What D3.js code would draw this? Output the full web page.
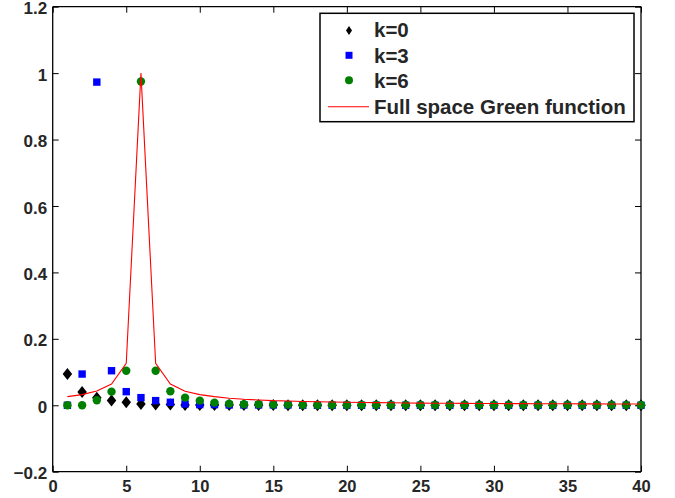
<!DOCTYPE html>
<html>
<head>
<meta charset="utf-8">
<script src="https://cdn.jsdelivr.net/npm/d3@7"></script>
<style>
  html, body { margin: 0; padding: 0; background: #fff; }
  svg { display: block; font-family: "Liberation Sans", Arial, Helvetica, sans-serif; }
</style>
</head>
<body>
<svg id="chart" width="675" height="498"></svg>
<script>
// ---- data ----
const xIndex = d3.range(1, 41); // 1..40
const k0Values = [0.094, 0.040, 0.023, 0.014, 0.009, 0.004, 0.002, 0.002, 0.001, 0.001,
  0.001, 0.001, 0.001, 0.001, 0.001, 0.000, 0.000, 0.000, 0.000, 0.000,
  0.000, 0.000, 0.000, 0.000, 0.000, 0.000, 0.000, 0.000, 0.000, 0.000,
  0.000, 0.000, 0.000, 0.000, 0.000, 0.000, 0.000, 0.000, 0.000, 0.000];
const k3Values = [0.000, 0.094, 0.973, 0.104, 0.041, 0.023, 0.014, 0.009, 0.004, 0.002,
  0.002, 0.001, 0.001, 0.001, 0.001, 0.001, 0.000, 0.000, 0.000, 0.000,
  0.000, 0.000, 0.000, 0.000, 0.000, 0.000, 0.000, 0.000, 0.000, 0.000,
  0.000, 0.000, 0.000, 0.000, 0.000, 0.000, 0.000, 0.000, 0.000, 0.000];
const k6Values = [0.000, 0.000, 0.015, 0.041, 0.104, 0.975, 0.104, 0.042, 0.023, 0.014,
  0.008, 0.005, 0.003, 0.003, 0.002, 0.002, 0.001, 0.001, 0.001, 0.001,
  0.001, 0.001, 0.001, 0.001, 0.001, 0.001, 0.001, 0.001, 0.001, 0.001,
  0.001, 0.001, 0.001, 0.001, 0.001, 0.001, 0.001, 0.001, 0.001, 0.001];
const greenValues = [0.026, 0.032, 0.043, 0.064, 0.126, 1.000, 0.126, 0.064, 0.042, 0.032,
  0.026, 0.021, 0.018, 0.016, 0.014, 0.013, 0.0115, 0.0105, 0.0097, 0.0090,
  0.0084, 0.0079, 0.0074, 0.0070, 0.0066, 0.0063, 0.0060, 0.0057, 0.0055, 0.0053,
  0.0051, 0.0049, 0.0047, 0.0045, 0.0044, 0.0042, 0.0041, 0.0040, 0.0039, 0.0038];
const xTicks = [0, 5, 10, 15, 20, 25, 30, 35, 40];
const yTicks = [-0.2, 0, 0.2, 0.4, 0.6, 0.8, 1, 1.2];
const legendLabels = ["k=0", "k=3", "k=6", "Full space Green function"];

// ---- layout ----
const svg = d3.select("#chart");
const L = 52.7, R = 641, T = 6.7, B = 471.7;
const x = d3.scaleLinear().domain([0, 40]).range([L, R]);
const y = d3.scaleLinear().domain([-0.2, 1.2]).range([B, T]);
const tickLen = 6;

const g = svg.append("g");

// axes with inward ticks on all four sides
const fmt = d => (d === 0 ? "0" : d3.format("")(+d.toFixed(1))).replace("-", "\u2212");
const axB = g.append("g").attr("transform", `translate(0,${B})`)
  .call(d3.axisBottom(x).tickValues(xTicks).tickSize(-tickLen).tickPadding(9).tickFormat(d => d));
const axT = g.append("g").attr("transform", `translate(0,${T})`)
  .call(d3.axisTop(x).tickValues(xTicks).tickSize(-tickLen).tickFormat(""));
const axL = g.append("g").attr("transform", `translate(${L},0)`)
  .call(d3.axisLeft(y).tickValues(yTicks).tickSize(-tickLen).tickPadding(5.5).tickFormat(fmt));
const axR = g.append("g").attr("transform", `translate(${R},0)`)
  .call(d3.axisRight(y).tickValues(yTicks).tickSize(-tickLen).tickFormat(""));

[axB, axT, axL, axR].forEach(a => {
  a.select(".domain").attr("stroke", "#000").attr("stroke-width", 1.3);
  a.selectAll(".tick line").attr("stroke", "#000").attr("stroke-width", 1);
  a.selectAll("text").attr("fill", "#262626").attr("font-size", "16.5px")
    .attr("font-weight", "bold").attr("font-family", "'Liberation Sans', Arial, sans-serif");
});
axL.selectAll(".tick text").attr("dy", "0.42em").attr("font-size", "17px");
axB.select(".domain").attr("d", `M${L},0H${R}`);
axT.select(".domain").attr("d", `M${L},0H${R}`);
axL.select(".domain").attr("d", `M0,${T}V${B}`);
axR.select(".domain").attr("d", `M0,${T}V${B}`);

// ---- marks ----
const plot = svg.append("g");
const diamond = (cx, cy, w, h) => `M${cx},${cy - h / 2}L${cx + w / 2},${cy}L${cx},${cy + h / 2}L${cx - w / 2},${cy}Z`;

plot.append("g").selectAll("path").data(k0Values).join("path")
  .attr("d", (d, i) => diamond(x(xIndex[i]), y(d), 9.5, 12))
  .attr("fill", "#000");

plot.append("g").selectAll("rect").data(k3Values).join("rect")
  .attr("x", (d, i) => x(xIndex[i]) - 3.7).attr("y", d => y(d) - 3.7)
  .attr("width", 7.4).attr("height", 7.4).attr("fill", "#0000ff");

plot.append("g").selectAll("circle").data(k6Values).join("circle")
  .attr("cx", (d, i) => x(xIndex[i])).attr("cy", d => y(d)).attr("r", 4.2)
  .attr("fill", "#008000");

const line = d3.line().x((d, i) => x(xIndex[i])).y(d => y(d));
plot.append("path").datum(greenValues).attr("d", line)
  .attr("fill", "none").attr("stroke", "#ff0000").attr("stroke-width", 1.1);

// ---- legend ----
const lg = svg.append("g");
lg.append("rect").attr("x", 320).attr("y", 13.3).attr("width", 314).attr("height", 108.4)
  .attr("fill", "#fff").attr("stroke", "#000").attr("stroke-width", 1.5);
const rowBase = [37.3, 62.7, 88.3, 114];
const mx = 349;
lg.append("path").attr("d", diamond(mx, rowBase[0] - 6.8, 6, 9)).attr("fill", "#000");
lg.append("rect").attr("x", mx - 3.5).attr("y", rowBase[1] - 7.4 - 3.5).attr("width", 7).attr("height", 7).attr("fill", "#0000ff");
lg.append("circle").attr("cx", mx).attr("cy", rowBase[2] - 8).attr("r", 4).attr("fill", "#008000");
lg.append("line").attr("x1", 328).attr("x2", 369).attr("y1", rowBase[3] - 7.3).attr("y2", rowBase[3] - 7.3)
  .attr("stroke", "#ff0000").attr("stroke-width", 1.1);
lg.selectAll("text.lbl").data(legendLabels).join("text").attr("class", "lbl")
  .attr("x", 374).attr("y", (d, i) => rowBase[i])
  .attr("font-size", "20.5px").attr("font-weight", "bold").attr("fill", "#262626")
  .text(d => d);
</script>
</body>
</html>
